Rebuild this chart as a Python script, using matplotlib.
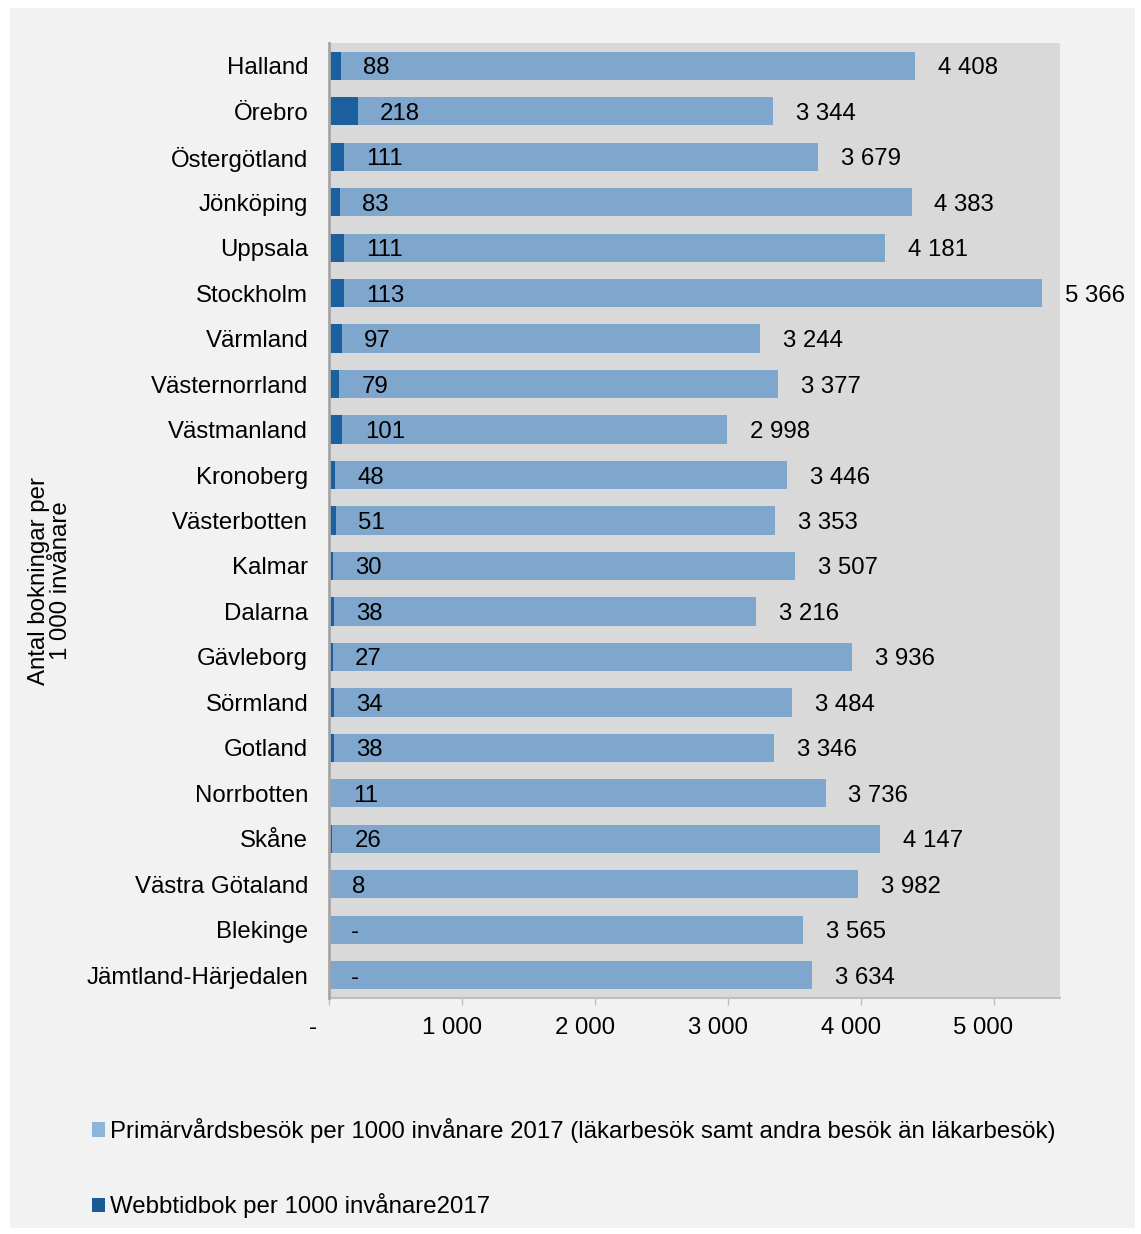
import matplotlib
matplotlib.use("Agg")
import matplotlib.pyplot as plt
import matplotlib.transforms as mtransforms
from matplotlib.patches import Rectangle, Patch

regions = ["Halland", "Örebro", "Östergötland", "Jönköping", "Uppsala", "Stockholm",
           "Värmland", "Västernorrland", "Västmanland", "Kronoberg", "Västerbotten",
           "Kalmar", "Dalarna", "Gävleborg", "Sörmland", "Gotland", "Norrbotten",
           "Skåne", "Västra Götaland", "Blekinge", "Jämtland-Härjedalen"]
webb = [88, 218, 111, 83, 111, 113, 97, 79, 101, 48, 51, 30, 38, 27, 34, 38, 11, 26, 8, 0, 0]
prim = [4408, 3344, 3679, 4383, 4181, 5366, 3244, 3377, 2998, 3446, 3353, 3507, 3216,
        3936, 3484, 3346, 3736, 4147, 3982, 3565, 3634]
xticks = [0, 1000, 2000, 3000, 4000, 5000]

label_prim = "Primärvårdsbesök per 1000 invånare 2017 (läkarbesök samt andra besök än läkarbesök)"
label_webb = "Webbtidbok per 1000 invånare2017"
ylabel = "Antal bokningar per\n1 000 invånare"

c_light = "#7fa6cc"
c_dark = "#1c5f9e"
c_leg_light = "#8db4d9"
c_leg_dark = "#1c5a96"

plt.rcParams['font.family'] = ['Liberation Sans', 'DejaVu Sans']
FS = 17.3


def fmt(v):
    return "-" if v == 0 else f"{v:,}".replace(",", " ")


W, H = 1141, 1234
fig = plt.figure(figsize=(W / 100, H / 100), dpi=100)
fig.patch.set_facecolor("white")
fig.patches.append(Rectangle((10 / W, 1 - 1228 / H), (1135 - 10) / W, (1228 - 8) / H,
                             transform=fig.transFigure, facecolor="#f2f2f2",
                             edgecolor="none", zorder=-10))

ax = fig.add_axes([329 / W, 1 - 998 / H, (1060 - 329) / W, (998 - 43) / H])
ax.set_facecolor("#d9d9d9")

y = list(range(len(regions)))
ax.barh(y, prim, height=0.62, color=c_light, zorder=2)
ax.barh(y, webb, height=0.62, color=c_dark, zorder=3)

for yi, p, w in zip(y, prim, webb):
    ax.annotate(fmt(p), (p, yi), xytext=(16.5, 0), textcoords="offset points",
                ha="left", va="center_baseline", fontsize=FS, color="black", zorder=4)
    ax.annotate(fmt(w), (w, yi), xytext=(16, 0), textcoords="offset points",
                ha="left", va="center_baseline", fontsize=FS, color="black", zorder=4)

ax.set_xlim(0, 5500)
ax.set_ylim(len(regions) - 0.5, -0.5)
ax.set_yticks(y)
ax.set_yticklabels(regions, fontsize=FS)
ax.tick_params(axis="y", length=0, pad=15)
ax.set_xticks(xticks)
ax.set_xticklabels([fmt(v) for v in xticks], fontsize=FS)
ax.tick_params(axis="x", length=5, width=1, color="#bfbfbf", pad=9)

for lab, v in zip(ax.get_xticklabels(), xticks):
    dx = -16 if v == 0 else -10
    lab.set_transform(lab.get_transform() + mtransforms.ScaledTranslation(dx / 100, 0, fig.dpi_scale_trans))

for s in ["top", "right"]:
    ax.spines[s].set_visible(False)
ax.spines["left"].set_color("#a6a6a6")
ax.spines["left"].set_linewidth(2)
ax.spines["bottom"].set_color("#bfbfbf")
ax.spines["bottom"].set_linewidth(1.5)
ax.spines["left"].set_zorder(5)

fig.text(50 / W, 1 - 581 / H, ylabel, rotation=90, ha="center", va="center",
         fontsize=FS, linespacing=0.95)

handles = [Patch(facecolor=c_leg_light, edgecolor="none", label=label_prim),
           Patch(facecolor=c_leg_dark, edgecolor="none", label=label_webb)]
fig.legend(handles=handles, loc="upper left", bbox_to_anchor=(92 / W, 1 - 1118 / H),
           frameon=False, fontsize=FS, handlelength=0.55, handleheight=0.55,
           handletextpad=0.2, labelspacing=2.1, borderpad=0, borderaxespad=0)

fig.savefig("out.png", dpi=100, facecolor=fig.get_facecolor())
